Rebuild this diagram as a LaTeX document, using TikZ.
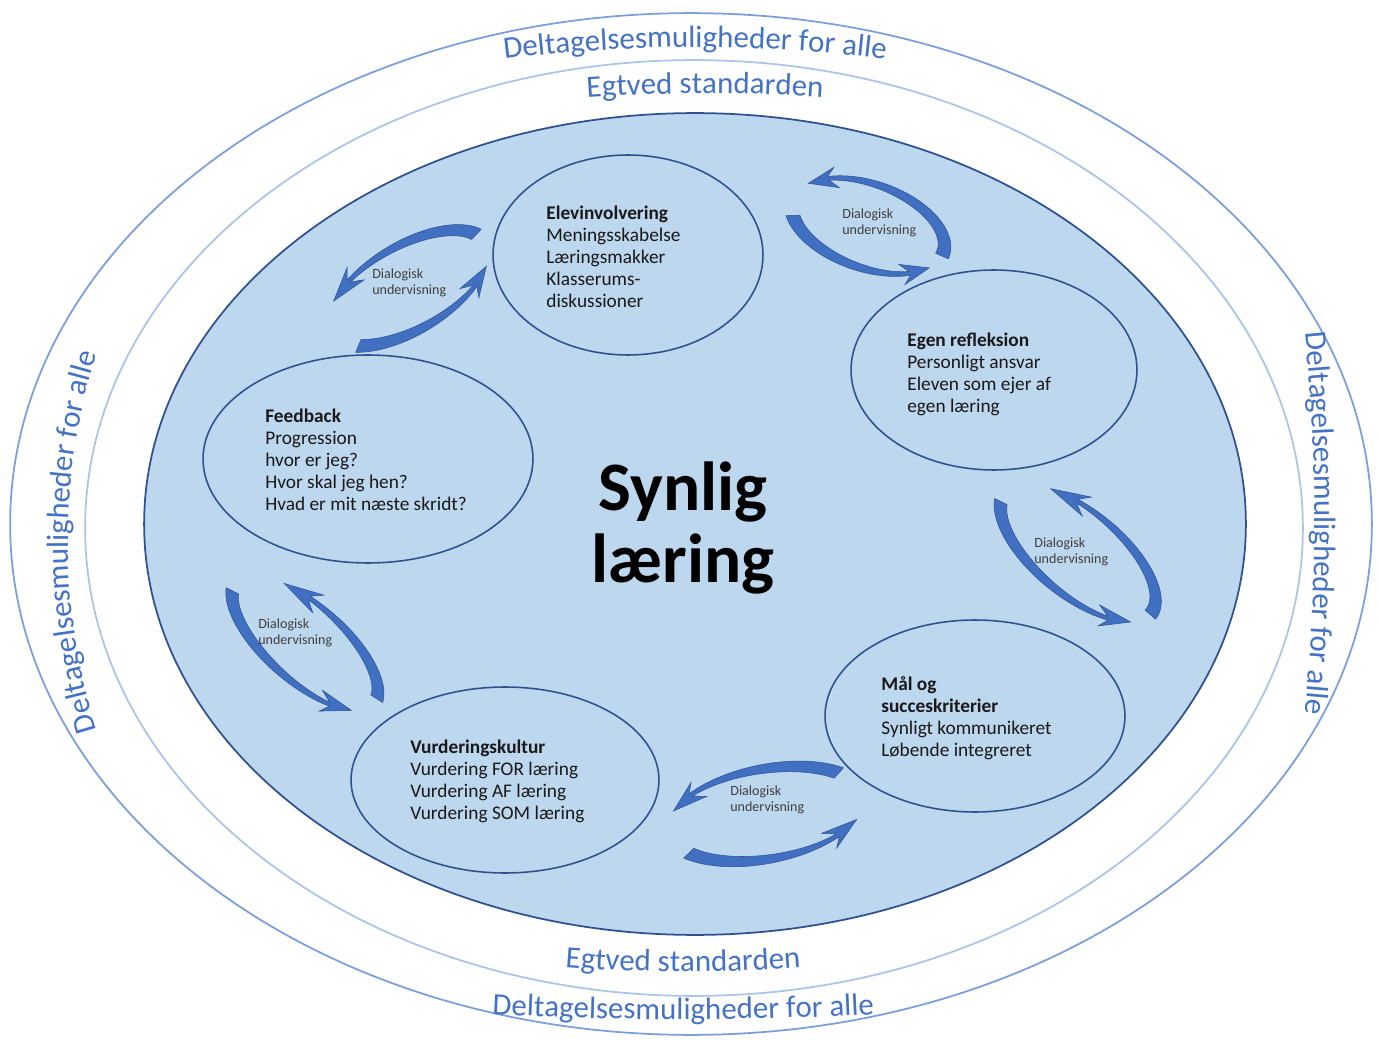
\documentclass[tikz,border=0pt]{standalone}
\usepackage{fontspec}
\setmainfont{Carlito}
\usetikzlibrary{positioning,calc,shapes.geometric,decorations.text}
\definecolor{bandline}{HTML}{7A9FDB}
\definecolor{bandlinelight}{HTML}{ABC4EA}
\definecolor{bandtext}{HTML}{4472C4}
\definecolor{poolfill}{HTML}{BDD7EE}
\definecolor{poolline}{HTML}{2F528F}
\definecolor{arrowblue}{HTML}{4170C2}
\definecolor{dialogtext}{HTML}{404040}

\newcommand{\bandfont}{\fontsize{17.6}{20}\selectfont}

% curved arrow round an ellipse: #1,#2 half axes, #3 tail angle, #4 tip angle
\newcommand{\dialogarrow}[4]{%
  \pgfmathsetmacro{\headbase}{#4-20}
  \fill[arrowfill]
    plot[domain=#3:\headbase, samples=30]
      ({(#1+7-5*(\x-(#3))/(\headbase-(#3)))*cos(\x)}, {(#2+7-5*(\x-(#3))/(\headbase-(#3)))*sin(\x)})
    -- ({(#1+11)*cos(\headbase-7)}, {(#2+11)*sin(\headbase-7)})
    -- ({#1*cos(#4)}, {#2*sin(#4)})
    -- ({(#1-10)*cos(\headbase-7)}, {(#2-10)*sin(\headbase-7)})
    -- plot[domain=\headbase:#3, samples=30]
      ({(#1-7+5*(\x-(#3))/(\headbase-(#3)))*cos(\x)}, {(#2-7+5*(\x-(#3))/(\headbase-(#3)))*sin(\x)})
    -- cycle;
}

\begin{document}
\begin{tikzpicture}[
    x=0.02cm, y=0.02cm,
    bubble/.style={draw=poolline, line width=0.9pt, ellipse, inner sep=0pt},
    bubbletext/.style={anchor=west, align=left, inner sep=0pt, font=\fontsize{11}{12.5}\selectfont, text=black!90},
    dialog/.style={anchor=west, align=left, inner sep=0pt, font=\fontsize{8}{9.1}\selectfont, text=dialogtext},
    arrowfill/.style={fill=arrowblue, draw=poolline, line width=0.3pt},
    bandlabel/.style={decorate, decoration={text along path, text align=center, text color=bandtext}}
]

\useasboundingbox[fill=white] (0,0) rectangle (1379,1039);

% Rings
\node[ellipse, draw=bandline, line width=1pt, minimum width=27.24cm, minimum height=20.44cm] (outer) at (691,515) {};
\node[ellipse, draw=bandlinelight, line width=1pt, minimum width=24.36cm, minimum height=18.72cm] (band) at (694,511) {};
\node[ellipse, draw=poolline, fill=poolfill, line width=1pt, minimum width=22.04cm, minimum height=16.44cm] (pool) at (695,515) {};

% Ring texts (flat arcs)
\path[bandlabel, decoration={text={|\bandfont|Deltagelsesmuligheder for alle}}]
  ($(695,-578)+(98:31.4cm)$) arc[start angle=98, end angle=82, radius=31.4cm];
\path[bandlabel, decoration={text={|\bandfont|Deltagelsesmuligheder for alle}}]
  ($(702,497)+(200:12.68cm)$) arc[start angle=200, end angle=160, radius=12.68cm];
\path[bandlabel, decoration={text={|\bandfont|Deltagelsesmuligheder for alle}}]
  ($(-585,516)+(7:38cm)$) arc[start angle=7, end angle=-7, radius=38cm];
\path[bandlabel, decoration={text={|\bandfont|Deltagelsesmuligheder for alle}}]
  ($(683,3619)+(263:72cm)$) arc[start angle=263, end angle=277, radius=72cm];
\path[bandlabel, decoration={text={|\bandfont|Egtved standarden}}]
  ($(705,-754)+(95:34cm)$) arc[start angle=95, end angle=85, radius=34cm];
\path[bandlabel, decoration={text={|\bandfont|Egtved standarden}}]
  ($(683,1567)+(264:30cm)$) arc[start angle=264, end angle=276, radius=30cm];

% Bubbles
\node[bubble, minimum width=5.4cm, minimum height=4cm] (elev) at (628,784) {};
\node[bubble, minimum width=5.72cm, minimum height=4cm] (egen) at (994,669) {};
\node[bubble, minimum width=6.6cm, minimum height=4.16cm] (feedback) at (368,580) {};
\node[bubble, minimum width=6cm, minimum height=3.84cm] (maal) at (975,323) {};
\node[bubble, minimum width=6.16cm, minimum height=3.72cm] (vurdering) at (505,259) {};

\node[bubbletext] (elevtxt) at (546,782) {\textbf{Elevinvolvering}\\Meningsskabelse\\Læringsmakker\\Klasserums-\\diskussioner};
\node[bubbletext] (egentxt) at (907,665) {\textbf{Egen refleksion}\\Personligt ansvar\\Eleven som ejer af\\egen læring};
\node[bubbletext] (feedbacktxt) at (265,579) {\textbf{Feedback}\\Progression\\hvor er jeg?\\Hvor skal jeg hen?\\Hvad er mit næste skridt?};
\node[bubbletext] (maaltxt) at (881,321) {\textbf{Mål og}\\\textbf{succeskriterier}\\Synligt kommunikeret\\Løbende integreret};
\node[bubbletext] (vurderingtxt) at (410,258) {\textbf{Vurderingskultur}\\Vurdering FOR læring\\Vurdering AF læring\\Vurdering SOM læring};

% Centre
\node[font=\bfseries\fontsize{39.5}{41.5}\selectfont, align=center] (title) at (683,511) {Synlig\\læring};

% Dialog arrows
\begin{scope}[shift={(868,813)}, rotate=-20]
  \dialogarrow{80}{42}{-4}{152}
  \dialogarrow{80}{42}{202}{334}
\end{scope}
\begin{scope}[shift={(408,751)}, rotate=30]
  \dialogarrow{90}{42}{17}{142}
  \dialogarrow{90}{42}{217}{331}
\end{scope}
\begin{scope}[shift={(1078,486)}, rotate=-40]
  \dialogarrow{95}{42}{-1}{131}
  \dialogarrow{95}{42}{194}{333}
\end{scope}
\begin{scope}[shift={(305,396)}, rotate=-42]
  \dialogarrow{92}{38}{10}{127}
  \dialogarrow{92}{38}{195}{330}
\end{scope}
\begin{scope}[shift={(766,225)}, rotate=10]
  \dialogarrow{100}{45}{38}{155}
  \dialogarrow{100}{45}{214}{332}
\end{scope}

\node[dialog] (dialog1) at (842,816) {Dialogisk\\undervisning};
\node[dialog] (dialog2) at (372,756) {Dialogisk\\undervisning};
\node[dialog] (dialog3) at (1034,487) {Dialogisk\\undervisning};
\node[dialog] (dialog4) at (258,406) {Dialogisk\\undervisning};
\node[dialog] (dialog5) at (730,239) {Dialogisk\\undervisning};

\end{tikzpicture}
\end{document}
